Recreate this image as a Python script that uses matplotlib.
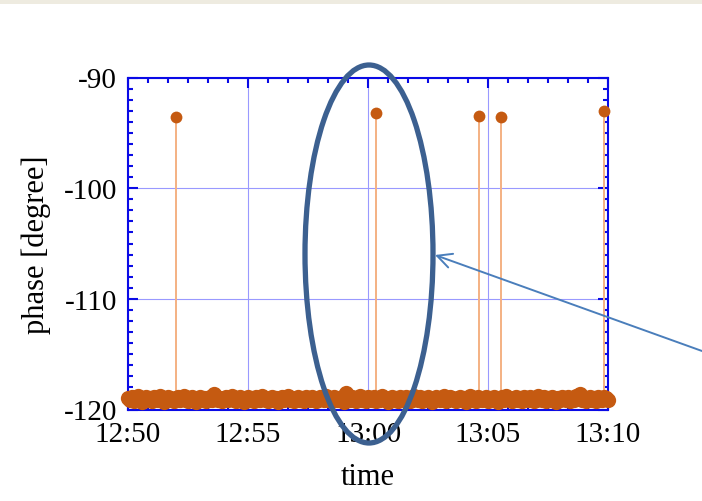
"""
位相ジャンプのグラフ (12:50-13:10) を再現する。
"""

import matplotlib

matplotlib.use("Agg")
import matplotlib.pyplot as plt
from matplotlib.patches import Ellipse, Rectangle
from matplotlib.ticker import FuncFormatter, MultipleLocator

# 12:50 からの経過秒 (5 秒ごと)
band_step = 5
band_phase = [
    -119.0, -119.1, -118.9, -119.2, -119.0, -118.8, -119.1, -119.3, -119.0, -118.9,
    -119.1, -119.0, -119.2, -118.9, -119.0, -119.1, -118.8, -119.0, -119.3, -119.1,
    -118.9, -119.0, -119.1, -119.2, -119.0, -118.9, -119.1, -119.0, -118.8, -119.1,
    -119.2, -119.0, -118.9, -119.1, -119.3, -119.0, -118.9, -119.1, -119.0, -119.2,
    -119.0, -118.9, -119.1, -118.6, -118.9, -119.1, -119.0, -119.2, -119.0, -118.9,
    -119.1, -119.0, -118.8, -119.1, -119.2, -119.0, -118.9, -119.1, -119.3, -119.0,
    -118.9, -119.1, -119.0, -119.2, -118.9, -119.0, -119.1, -118.8, -119.0, -119.1,
    -119.2, -119.0, -118.9, -119.1, -119.0, -119.3, -119.0, -118.9, -119.1, -119.0,
    -118.8, -119.1, -119.0, -119.2, -119.0, -118.9, -119.1, -119.0, -119.2, -118.9,
    -119.0, -119.1, -118.9, -119.0, -119.2, -119.1, -118.9, -119.0, -119.1, -118.8,
    -119.1, -119.0, -119.2, -118.9, -119.0, -119.1, -119.0, -118.9, -119.3, -118.5,
    -119.0, -119.1, -118.9, -119.0, -119.2, -119.0, -118.8, -119.1, -119.0, -119.2,
    -118.9, -119.0, -119.1, -118.9, -119.2, -119.0, -119.1, -118.8, -119.0, -119.1,
    -119.3, -119.0, -118.9, -119.1, -119.0, -119.2, -118.9, -119.0, -119.1, -118.9,
    -119.0, -119.2, -119.1, -118.8, -119.0, -119.1, -118.9, -119.2, -119.0, -119.1,
    -118.9, -119.0, -119.3, -119.1, -118.9, -119.0, -119.1, -119.0, -118.8, -119.2,
    -119.1, -118.9, -119.0, -119.1, -119.2, -119.0, -118.9, -119.1, -119.0, -119.3,
    -119.0, -118.8, -119.1, -119.0, -119.2, -118.9, -119.0, -119.1, -119.0, -118.9,
    -119.2, -119.0, -119.1, -118.9, -119.0, -119.3, -119.0, -118.9, -119.1, -118.8,
    -119.0, -119.1, -119.2, -119.0, -118.9, -119.1, -119.0, -119.2, -118.9, -119.0,
    -119.1, -118.9, -119.0, -119.2, -119.1, -118.8, -119.0, -119.1, -118.9, -119.2,
    -119.0, -119.1, -118.9, -119.0, -119.3, -119.0, -119.1, -118.9, -119.0, -119.1,
    -118.9, -119.2, -119.0, -119.1, -118.8, -119.0, -118.6, -119.1, -119.0, -119.2,
    -119.0, -118.9, -119.1, -119.0, -119.2, -118.9, -119.0, -119.1, -118.9, -119.0,
    -119.1,
]
band_time = [i * band_step for i in range(len(band_phase))]

# 位相ジャンプ (経過秒, 位相)
jump_time = [120, 620, 877, 932, 1191]
jump_phase = [-93.6, -93.2, -93.5, -93.6, -93.0]
jump_base = -119.1

x_major = [0, 300, 600, 900, 1200]
y_min, y_max = -120, -90

AXIS_BLUE = "#0a0ae6"
DOT = "#c55a11"
STEM = "#f4b183"

plt.rcParams["font.family"] = ["Liberation Serif", "DejaVu Serif"]
plt.rcParams["axes.unicode_minus"] = False


def time_label(s, _pos=None):
    total = 12 * 60 + 50 + int(round(s)) // 60
    return f"{total // 60}:{total % 60:02d}"


fig = plt.figure(figsize=(7.02, 5.02), dpi=100)
fig.patch.set_facecolor("white")
ax = fig.add_axes([128 / 702, 1 - 410.5 / 502, 480 / 702, 332 / 502])

ax.vlines(jump_time, jump_base, jump_phase, color=STEM, lw=1.4, zorder=2)
ax.plot(band_time, band_phase, "o", color=DOT, ms=11, mec="none", clip_on=False, zorder=3)
ax.plot(jump_time, jump_phase, "o", color=DOT, ms=8.5, mec="none", clip_on=False, zorder=4)

ax.set_xlim(0, 1200)
ax.set_ylim(y_min, y_max)
ax.set_xticks(x_major)
ax.xaxis.set_major_formatter(FuncFormatter(time_label))
ax.xaxis.set_minor_locator(MultipleLocator(50))
ax.yaxis.set_major_locator(MultipleLocator(10))
ax.yaxis.set_minor_locator(MultipleLocator(1))

ax.grid(True, which="major", color="#9999ff", lw=0.8, zorder=1)
ax.set_axisbelow(True)
for sp in ax.spines.values():
    sp.set_color(AXIS_BLUE)
    sp.set_linewidth(1.5)
ax.tick_params(which="both", direction="in", top=True, right=True, color=AXIS_BLUE,
               labelsize=21, pad=8)
ax.tick_params(which="major", length=7, width=1.5)
ax.tick_params(which="minor", length=3.8, width=1.5)

ax.set_xlabel("time", fontsize=22, labelpad=11)
ax.set_ylabel("phase [degree]", fontsize=22, labelpad=9)

# スライド上の注記 (楕円と矢印) をピクセル座標で描く
over = fig.add_axes([0, 0, 1, 1], zorder=10)
over.set_xlim(0, 702)
over.set_ylim(502, 0)
over.axis("off")
over.patch.set_alpha(0)
over.add_patch(Rectangle((0, 0), 702, 5, color="#eeebe0", lw=0))
over.add_patch(Ellipse((369, 255), 128, 378, fill=False, ec="#3c6090", lw=3.8))
over.annotate("", xy=(435, 256), xytext=(702, 352),
              arrowprops=dict(arrowstyle="->", color="#4a7ebb", lw=1.4,
                              mutation_scale=26, shrinkA=0, shrinkB=0))

fig.savefig("out.png", dpi=100)
plt.close(fig)
